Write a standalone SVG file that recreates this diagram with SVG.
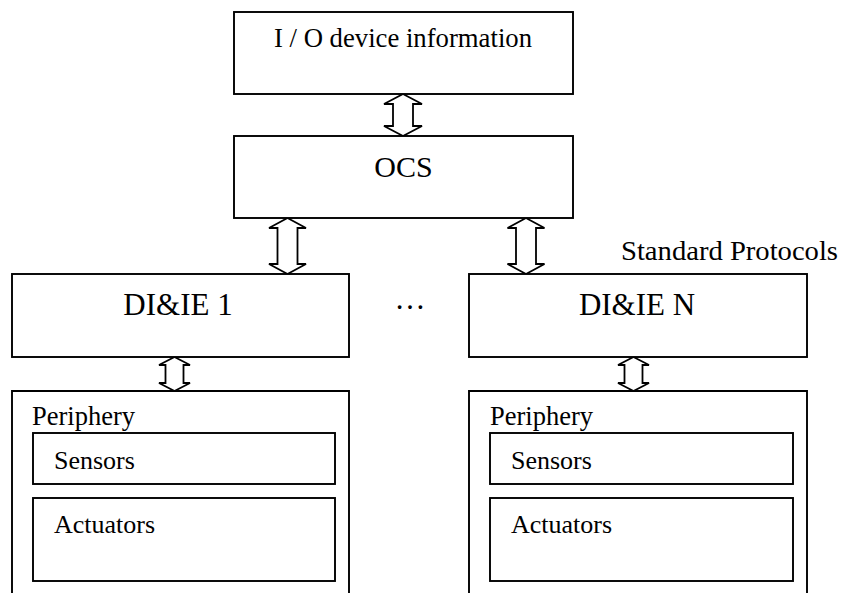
<svg xmlns="http://www.w3.org/2000/svg" width="843" height="593" viewBox="0 0 843 593">
<style>
.box{fill:#fff;stroke:#000;stroke-width:1.9}
.side{fill:none;stroke:#000;stroke-width:1.9}
.arr{fill:#fff;stroke:#000;stroke-width:1.8;stroke-linejoin:miter}
text{font-family:"Liberation Serif","Times New Roman",serif;fill:#000}
.c{text-anchor:middle}
</style>
<rect width="843" height="593" fill="#fff"/>
<g id="connectors">
<polygon class="arr" points="403,94 422,104 413,104 413,126 422,126 403,136 384,126 393,126 393,104 384,104"/>
<polygon class="arr" points="287.5,218 306,228 297.5,228 297.5,264 306,264 287.5,274 269,264 277.5,264 277.5,228 269,228"/>
<polygon class="arr" points="526,218 544.5,228 536,228 536,264 544.5,264 526,274 507.5,264 516,264 516,228 507.5,228"/>
<polygon class="arr" points="174.5,357 190,365 183.5,365 183.5,383 190,383 174.5,391 159,383 165.5,383 165.5,365 159,365"/>
<polygon class="arr" points="633.5,357 649,365 642.5,365 642.5,383 649,383 633.5,391 618,383 624.5,383 624.5,365 618,365"/>
</g>
<g id="io">
<rect class="box" x="234" y="12" width="339" height="82"/>
<text class="c" x="403" y="47" font-size="26.5" textLength="258" lengthAdjust="spacingAndGlyphs">I / O device information</text>
</g>
<g id="ocs">
<rect class="box" x="234" y="136" width="339" height="82"/>
<text class="c" x="403.5" y="177" font-size="30">OCS</text>
</g>
<g id="die1">
<rect class="box" x="12" y="274" width="337" height="83"/>
<text class="c" x="178" y="315" font-size="31">DI&amp;IE 1</text>
</g>
<g id="dots">
<text class="c" x="410" y="309" font-size="31">…</text>
</g>
<g id="dien">
<rect class="box" x="469" y="274" width="338" height="83"/>
<text class="c" x="637" y="315" font-size="31">DI&amp;IE N</text>
</g>
<g id="protocols">
<text x="621" y="260" font-size="28" textLength="217" lengthAdjust="spacingAndGlyphs">Standard Protocols</text>
</g>
<g id="periph1">
<path class="side" d="M12,600 V391 H349 V600"/>
<text x="32" y="425" font-size="26.5">Periphery</text>
</g>
<g id="sensors1">
<rect class="box" x="33" y="433" width="302" height="51"/>
<text x="54" y="469" font-size="26">Sensors</text>
</g>
<g id="actuators1">
<rect class="box" x="33" y="498" width="302" height="83"/>
<text x="54" y="533" font-size="26">Actuators</text>
</g>
<g id="periphN">
<path class="side" d="M469,600 V391 H807 V600"/>
<text x="490" y="425" font-size="26.5">Periphery</text>
</g>
<g id="sensorsN">
<rect class="box" x="490" y="433" width="303" height="51"/>
<text x="511" y="469" font-size="26">Sensors</text>
</g>
<g id="actuatorsN">
<rect class="box" x="490" y="498" width="303" height="83"/>
<text x="511" y="533" font-size="26">Actuators</text>
</g>
</svg>
